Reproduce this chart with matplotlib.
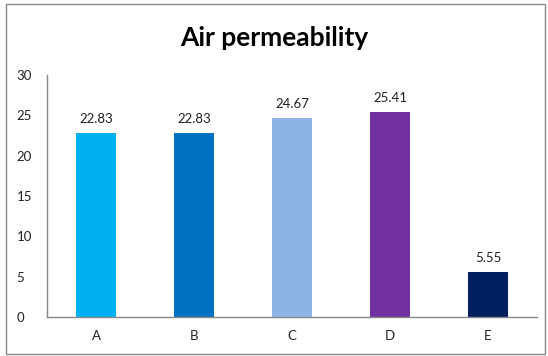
import matplotlib
matplotlib.use("Agg")
from matplotlib import pyplot as plt
from matplotlib.patches import Rectangle

categories = ["A", "B", "C", "D", "E"]
values = [22.83, 22.83, 24.67, 25.41, 5.55]
colors = ["#00B0F0", "#0070C0", "#8EB4E3", "#7030A0", "#002060"]
yticks = [0, 5, 10, 15, 20, 25, 30]

plt.rcParams["font.family"] = ["Lato", "DejaVu Sans"]

fig = plt.figure(figsize=(5.48, 3.56), dpi=100)
ax = fig.add_axes([47 / 548, 1 - 317 / 356, 490 / 548, 242 / 356])

x = list(range(len(categories)))
bars = ax.bar(x, values, width=0.41, color=colors)
for b, v in zip(bars, values):
    ax.text(b.get_x() + b.get_width() / 2, v + 1.0, f"{v:.2f}",
            ha="center", va="bottom", fontsize=9.5, color="#222222")

ax.set_xlim(-0.5, len(categories) - 0.5)
ax.set_ylim(0, 30)
ax.set_yticks(yticks)
ax.set_xticks(x)
ax.set_xticklabels(categories)
ax.tick_params(axis="both", length=0, labelsize=9.5, colors="#222222")
ax.tick_params(axis="x", pad=9)
ax.tick_params(axis="y", pad=22)
for lab in ax.get_yticklabels():
    lab.set_horizontalalignment("left")

for side in ["top", "right"]:
    ax.spines[side].set_visible(False)
for side in ["left", "bottom"]:
    ax.spines[side].set_color("#888888")
    ax.spines[side].set_linewidth(1)

fig.text(0.5, 1 - 38 / 356, "Air permeability", ha="center", va="center",
         fontsize=19, fontweight="bold", color="black")

# chart frame
fig.patches.append(Rectangle((6 / 548, 2 / 356), 539 / 548, 350 / 356,
                             transform=fig.transFigure, fill=False,
                             edgecolor="#888888", linewidth=1))

fig.savefig("out.png", dpi=100)
